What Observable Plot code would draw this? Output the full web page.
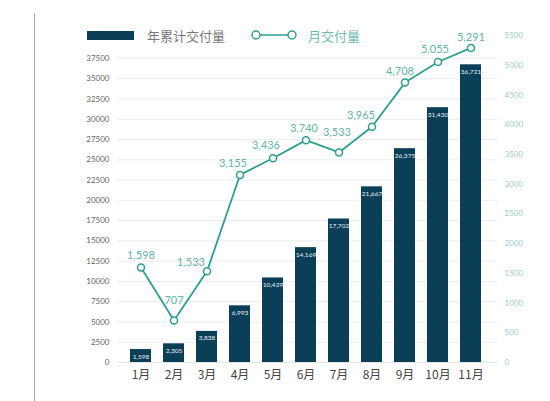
<!DOCTYPE html>
<html>
<head>
<meta charset="utf-8">
<script src="https://cdn.jsdelivr.net/npm/d3@7"></script>
<script src="https://cdn.jsdelivr.net/npm/@observablehq/plot@0.6"></script>
<style>
  html, body { margin: 0; padding: 0; background: #fff; }
  #wrap { position: relative; width: 550px; height: 401px; font-family: Lato, "Noto Sans CJK SC", sans-serif; }
  #vline { position: absolute; left: 34px; top: 13px; bottom: 0; width: 1px; background: #a8a8a8; }
  .leg { position: absolute; top: 26px; height: 18px; display: flex; align-items: center; font-family: "Noto Sans CJK SC", sans-serif; font-size: 13px; }
</style>
</head>
<body>
<div id="wrap">
  <div id="vline"></div>
</div>
<script>
const months = ["1月","2月","3月","4月","5月","6月","7月","8月","9月","10月","11月"];
const cumulative = [1598, 2305, 3838, 6993, 10429, 14169, 17702, 21667, 26375, 31430, 36721];
const monthly = [1598, 707, 1533, 3155, 3436, 3740, 3533, 3965, 4708, 5055, 5291];
const leftTicks = d3.range(0, 37501, 2500);
const rightTicks = d3.range(0, 5501, 500);
const seriesNames = ["年累计交付量", "月交付量"];

// label nudges (style only) for the monthly value labels
const labelDx = [0, 0, -16, -7, -7, -2, -2, -11, -5, -3, 0];
const labelDy = [-12, -20, -9, -11, -13, -12, -20, -11, -11, -12, -10];

const barColor = "#0b3f58";
const lineColor = "#2f9e91";
const k = 22 / 3; // right-axis value -> left-axis units
const fmt = d3.format(",");

const data = months.map((m, i) => ({month: m, cum: cumulative[i], mon: monthly[i]}));

const monthLabels = data.map((d, i) =>
  Plot.text([d], {x: "month", y: d => d.mon * k, text: d => fmt(d.mon), dx: labelDx[i], dy: labelDy[i], fill: "#63b4a9", fontSize: 11})
);

const chart = Plot.plot({
  width: 550,
  height: 401,
  marginLeft: 117,
  marginRight: 53,
  marginTop: 35,
  marginBottom: 39,
  style: {fontFamily: "Lato, 'Noto Sans CJK SC', sans-serif", background: "transparent"},
  x: {type: "band", domain: months, range: [121, 491], paddingInner: 0.35, paddingOuter: 0.175, axis: null},
  y: {domain: [0, 5500 * k], axis: null},
  marks: [
    Plot.gridY(leftTicks, {stroke: "#ececec", strokeOpacity: 1}),
    Plot.ruleY([0], {stroke: "#e4e4e4"}),
    Plot.axisY(leftTicks, {anchor: "left", tickSize: 0, tickPadding: 8, tickFormat: d => String(d), fontSize: 8, fill: "#666", label: null}),
    Plot.axisY(rightTicks.map(v => v * k), {anchor: "right", tickSize: 0, tickPadding: 7, tickFormat: d => String(Math.round(d / k)), fontSize: 8, fill: "#9ccdc6", label: null}),
    Plot.axisX({tickSize: 0, tickPadding: 8, fontSize: 12, fill: "#444", label: null, fontFamily: "'Noto Sans CJK SC', sans-serif"}),
    Plot.barY(data, {x: "month", y: "cum", fill: barColor}),
    Plot.text(data, {x: "month", y: "cum", text: d => fmt(d.cum), dy: 7, fill: "#e8f2f5", fontSize: 6.5}),
    Plot.line(data, {x: "month", y: d => d.mon * k, stroke: lineColor, strokeWidth: 1.8}),
    Plot.dot(data, {x: "month", y: d => d.mon * k, r: 3.5, fill: "white", stroke: lineColor, strokeWidth: 1.5}),
    ...monthLabels
  ]
});

const wrap = document.getElementById("wrap");
wrap.appendChild(chart);
chart.style.position = "absolute";
chart.style.left = "0";
chart.style.top = "0";

const leg1 = document.createElement("div");
leg1.className = "leg";
leg1.style.left = "87px";
leg1.innerHTML = `<span style="display:inline-block;width:47px;height:9px;background:${barColor};margin-right:13px"></span><span style="color:#777">${seriesNames[0]}</span>`;
wrap.appendChild(leg1);

const leg2 = document.createElement("div");
leg2.className = "leg";
leg2.style.left = "251px";
leg2.innerHTML = `<svg width="47" height="12" style="margin-right:10px"><line x1="5" y1="6" x2="41" y2="6" stroke="${lineColor}" stroke-width="1.5"/><circle cx="5" cy="6" r="4" fill="white" stroke="${lineColor}" stroke-width="1.5"/><circle cx="41" cy="6" r="4" fill="white" stroke="${lineColor}" stroke-width="1.5"/></svg><span style="color:#6fbab0">${seriesNames[1]}</span>`;
wrap.appendChild(leg2);
</script>
</body>
</html>
